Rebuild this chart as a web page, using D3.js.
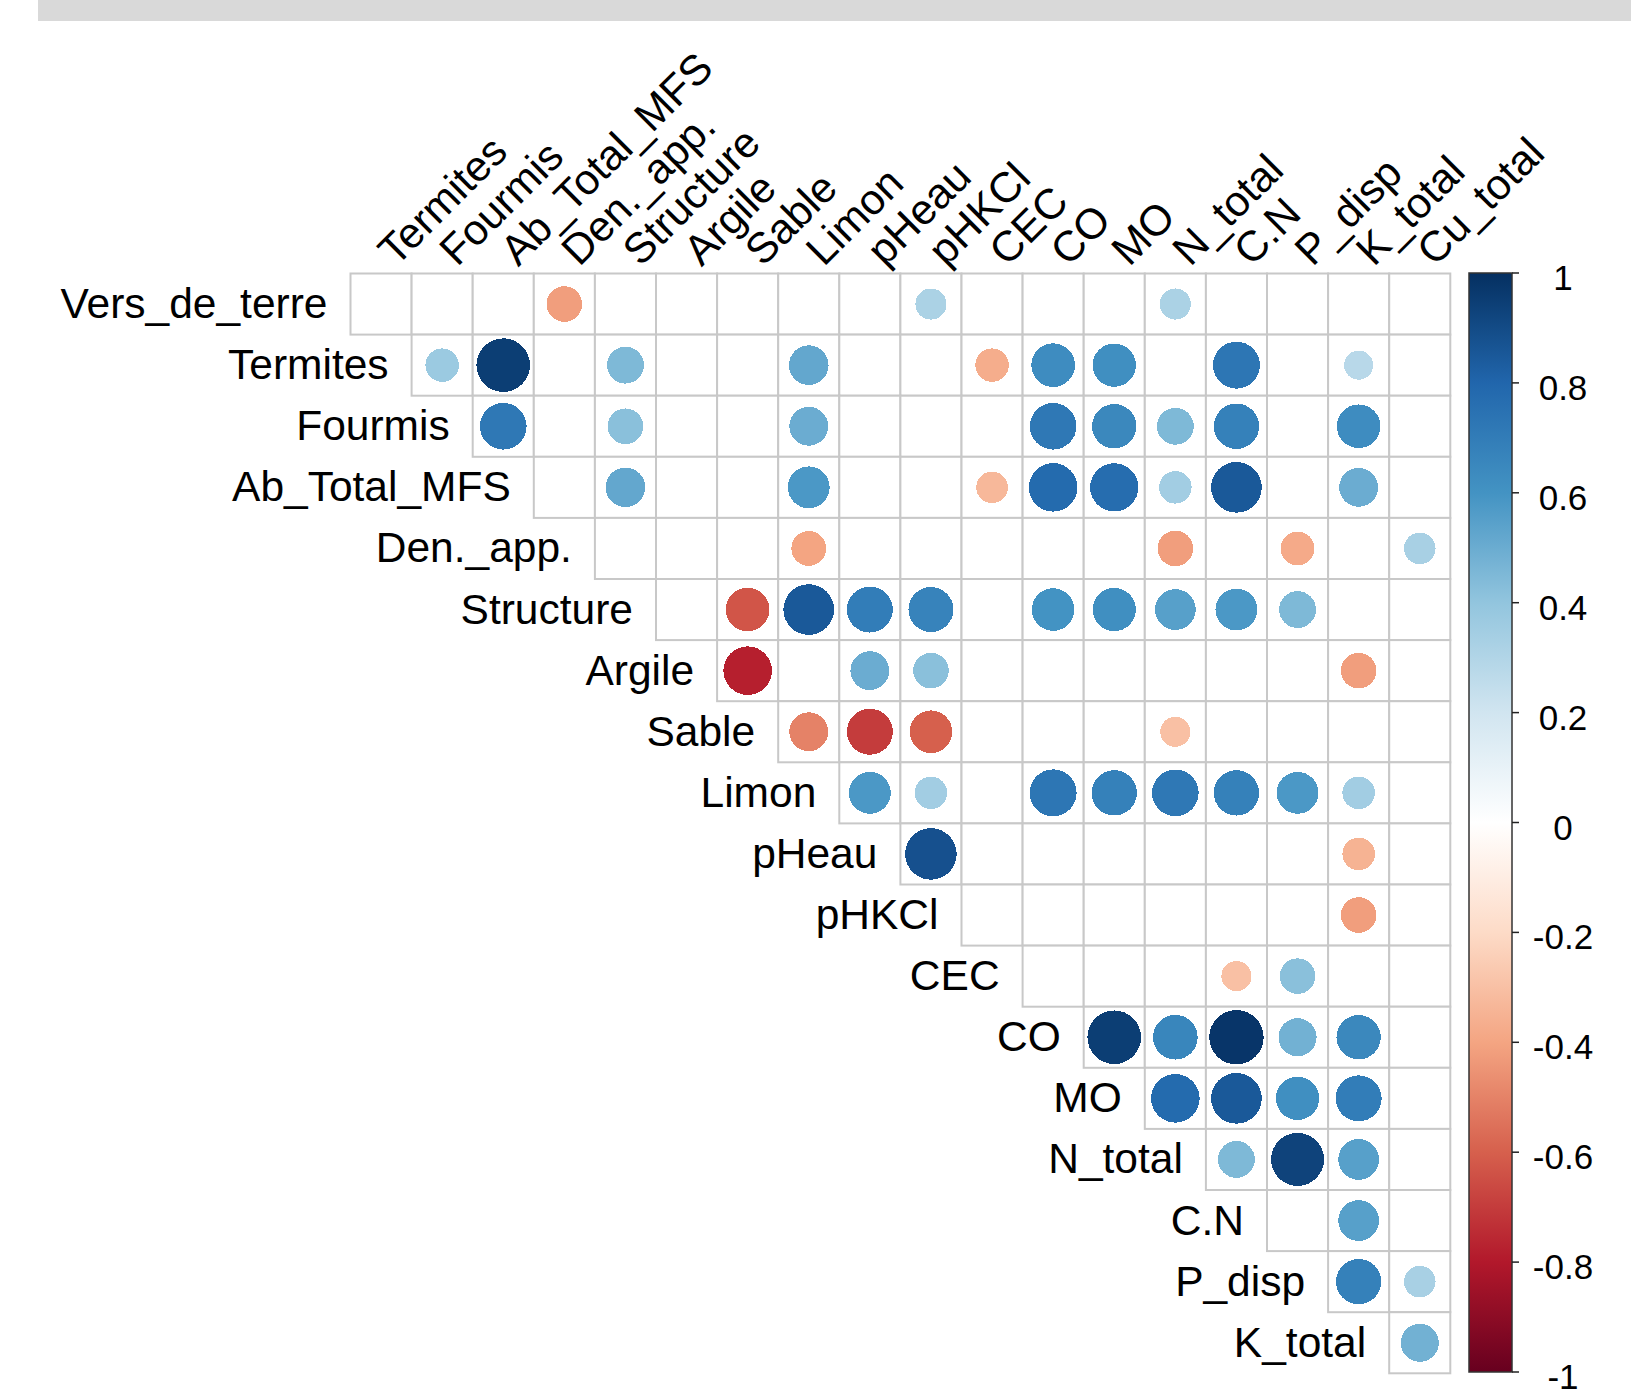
<!DOCTYPE html>
<html>
<head>
<meta charset="utf-8">
<script src="https://cdn.jsdelivr.net/npm/d3@7"></script>
<style>
  body { margin: 0; background: #fff; }
  text { font-family: "Liberation Sans", Arial, sans-serif; fill: #000; }
</style>
</head>
<body>
<script>
// variables of the correlation matrix (rows = vars[0..17], columns = vars[1..18])
var vars = ["Vers_de_terre", "Termites", "Fourmis", "Ab_Total_MFS", "Den._app.", "Structure",
  "Argile", "Sable", "Limon", "pHeau", "pHKCl", "CEC", "CO", "MO", "N_total", "C.N",
  "P_disp", "K_total", "Cu_total"];

// upper triangle, row r starts at column r ; null = not significant (blank cell)
var rowVers     = [null, null, null, -0.42, null, null, null, null, null, 0.32, null, null, null, 0.32, null, null, null, null];
var rowTermites = [0.37, 0.95, null, 0.45, null, null, 0.52, null, null, -0.37, 0.63, 0.62, null, 0.73, null, 0.28, null];
var rowFourmis  = [0.72, null, 0.42, null, null, 0.50, null, null, null, 0.72, 0.65, 0.45, 0.68, null, 0.63, null];
var rowAbTotal  = [null, 0.52, null, null, 0.58, null, null, -0.33, 0.78, 0.77, 0.35, 0.85, null, 0.50, null];
var rowDenApp   = [null, null, null, -0.40, null, null, null, null, null, -0.42, null, -0.38, null, 0.33];
var rowStruct   = [null, -0.63, 0.85, 0.70, 0.67, null, 0.60, 0.62, 0.55, 0.58, 0.45, null, null];
var rowArgile   = [-0.78, null, 0.50, 0.42, null, null, null, null, null, null, -0.42, null];
var rowSable    = [-0.50, -0.70, -0.60, null, null, null, -0.30, null, null, null, null];
var rowLimon    = [0.58, 0.35, null, 0.73, 0.68, 0.72, 0.68, 0.58, 0.35, null];
var rowPHeau    = [0.88, null, null, null, null, null, null, -0.35, null];
var rowPHKCl    = [null, null, null, null, null, null, -0.42, null];
var rowCEC      = [null, null, null, -0.30, 0.42, null, null];
var rowCO       = [0.95, 0.66, 0.98, 0.48, 0.65, null];
var rowMO       = [0.78, 0.85, 0.62, 0.70, null];
var rowNtotal   = [0.45, 0.93, 0.55, null];
var rowCN       = [null, 0.55, null];
var rowPdisp    = [0.68, 0.33];
var rowKtotal   = [0.48];

var rows = [rowVers, rowTermites, rowFourmis, rowAbTotal, rowDenApp, rowStruct, rowArgile,
  rowSable, rowLimon, rowPHeau, rowPHKCl, rowCEC, rowCO, rowMO, rowNtotal, rowCN, rowPdisp, rowKtotal];

var legendTicks = [1, 0.8, 0.6, 0.4, 0.2, 0, -0.2, -0.4, -0.6, -0.8, -1];
var paletteRdBu = ["#67001F", "#B2182B", "#D6604D", "#F4A582", "#FDDBC7", "#FFFFFF",
  "#D1E5F0", "#92C5DE", "#4393C3", "#2166AC", "#053061"];

var W = 1631, H = 1395;
var gridLeft = 350.5, gridTop = 273.5, cell = 61.1;
var n = rows.length;
var rowNames = vars.slice(0, n);
var colNames = vars.slice(1);

var svg = d3.select("body").append("svg")
  .attr("width", W)
  .attr("height", H);

// grey band at the very top (cut-off panel header)
svg.append("rect")
  .attr("x", 38).attr("y", 0)
  .attr("width", W - 38).attr("height", 21)
  .attr("fill", "#d9d9d9");

var x = d3.scaleBand().domain(colNames).range([gridLeft, gridLeft + n * cell]);
var y = d3.scaleBand().domain(rowNames).range([gridTop, gridTop + n * cell]);

var color = d3.scaleLinear()
  .domain(d3.range(11).map(function(i) { return -1 + i * 0.2; }))
  .range(paletteRdBu)
  .interpolate(d3.interpolateRgb);

// flatten to cells
var cells = [];
rows.forEach(function(vals, r) {
  vals.forEach(function(v, k) {
    cells.push({ row: rowNames[r], col: colNames[r + k], value: v });
  });
});

var g = svg.append("g");

g.selectAll("rect.cell")
  .data(cells).enter()
  .append("rect")
  .attr("class", "cell")
  .attr("x", function(d) { return x(d.col); })
  .attr("y", function(d) { return y(d.row); })
  .attr("width", x.bandwidth())
  .attr("height", y.bandwidth())
  .attr("fill", "#fff")
  .attr("stroke", "#c8c8c8")
  .attr("stroke-width", 2);

g.selectAll("circle")
  .data(cells.filter(function(d) { return d.value != null; })).enter()
  .append("circle")
  .attr("cx", function(d) { return x(d.col) + x.bandwidth() / 2; })
  .attr("cy", function(d) { return y(d.row) + y.bandwidth() / 2; })
  // corrplot: radius = 0.9 * sqrt(|r|) / 2 of a cell
  .attr("r", function(d) { return 0.9 * Math.sqrt(Math.abs(d.value)) / 2 * x.bandwidth(); })
  .attr("fill", function(d) { return color(d.value); })
  .attr("shape-rendering", "crispEdges");

var fs = 42.5;

// row labels, right aligned before the first cell of each row
g.selectAll("text.rowlab")
  .data(rowNames).enter()
  .append("text")
  .attr("class", "rowlab")
  .attr("x", function(d, i) { return x(colNames[i]) - 23; })
  .attr("y", function(d) { return y(d) + y.bandwidth() / 2 + 14; })
  .attr("text-anchor", "end")
  .attr("font-size", fs)
  .text(function(d) { return d; });

// column labels, rotated 45 degrees
g.selectAll("text.collab")
  .data(colNames).enter()
  .append("text")
  .attr("class", "collab")
  .attr("transform", function(d) {
    return "translate(" + (x(d) + x.bandwidth() / 2 + 15) + "," + (gridTop - 6) + ") rotate(-45)";
  })
  .attr("font-size", fs)
  .text(function(d) { return d; });

// colour legend
var barX = 1469, barW = 43;
var ly = d3.scaleLinear().domain([-1, 1]).range([1372, 273]);

var defs = svg.append("defs");
var grad = defs.append("linearGradient")
  .attr("id", "rdbu")
  .attr("x1", 0).attr("y1", 1).attr("x2", 0).attr("y2", 0);
paletteRdBu.forEach(function(c, i) {
  grad.append("stop").attr("offset", i / 10).attr("stop-color", c);
});

svg.append("rect")
  .attr("x", barX).attr("y", ly(1))
  .attr("width", barW).attr("height", ly(-1) - ly(1))
  .attr("fill", "url(#rdbu)")
  .attr("stroke", "#333")
  .attr("stroke-width", 1.5);

var leg = svg.append("g");
leg.selectAll("line")
  .data(legendTicks).enter()
  .append("line")
  .attr("x1", barX + barW).attr("x2", barX + barW + 7)
  .attr("y1", function(d) { return ly(d); })
  .attr("y2", function(d) { return ly(d); })
  .attr("stroke", "#222")
  .attr("stroke-width", 1.5);

leg.selectAll("text")
  .data(legendTicks).enter()
  .append("text")
  .attr("x", 1563)
  .attr("y", function(d) { return ly(d) + 17; })
  .attr("text-anchor", "middle")
  .attr("font-size", 35)
  .text(function(d) { return String(d); });
</script>
</body>
</html>
